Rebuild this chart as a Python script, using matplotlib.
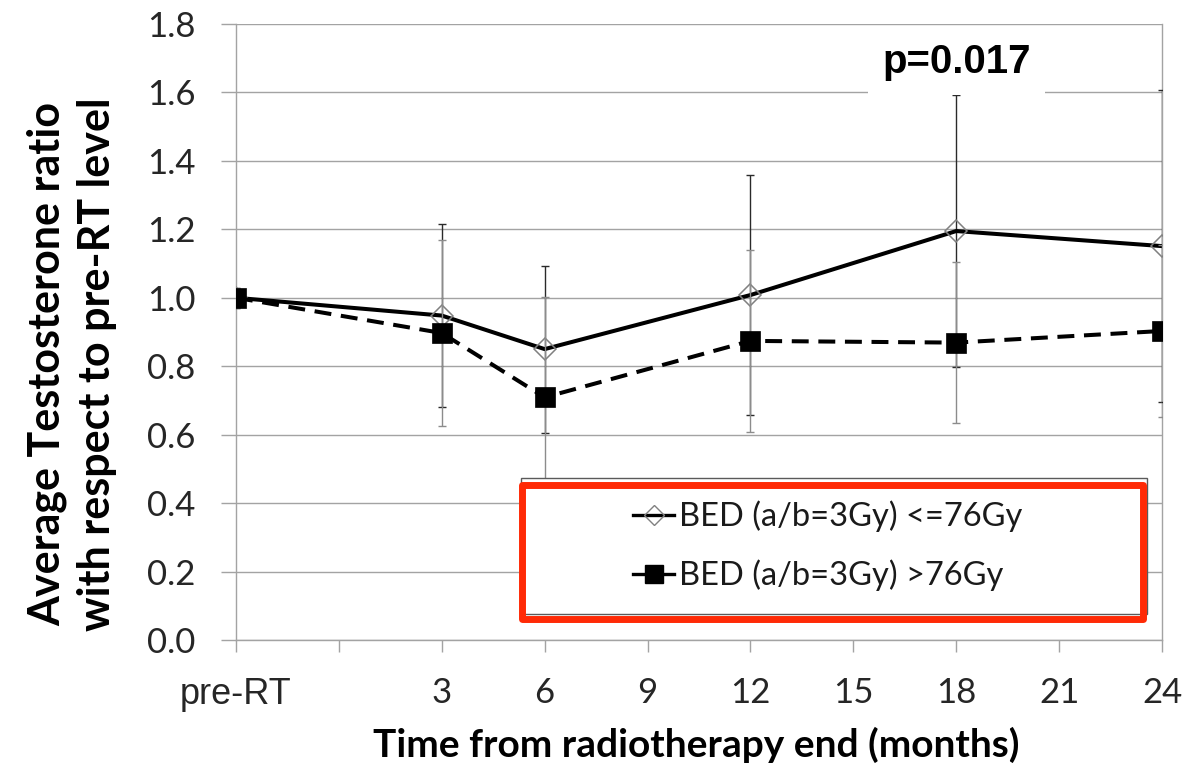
import matplotlib
matplotlib.use("Agg")
import matplotlib.pyplot as plt
from matplotlib.patches import Rectangle
from matplotlib.lines import Line2D

plt.rcParams['font.family'] = ['Lato', 'DejaVu Sans']

# -----------------------------------------------------------
# data
# -----------------------------------------------------------
# pre-RT sits one step left of month 0 on the time axis
time_pos = [-3, 3, 6, 12, 18, 24]
tick_pos = [-3, 0, 3, 6, 9, 12, 15, 18, 21, 24]
tick_labels = ['pre-RT', '', '3', '6', '9', '12', '15', '18', '21', '24']
y_ticks = [0.0, 0.2, 0.4, 0.6, 0.8, 1.0, 1.2, 1.4, 1.6, 1.8]

low_bed = [1.0, 0.948, 0.850, 1.008, 1.195, 1.151]
low_err = [0.03, 0.267, 0.244, 0.350, 0.398, 0.456]
high_bed = [1.0, 0.897, 0.709, 0.874, 0.869, 0.903]
high_err = [0.03, 0.273, 0.294, 0.266, 0.236, 0.250]

label_low = "BED (a/b=3Gy) <=76Gy"
label_high = "BED (a/b=3Gy) >76Gy"
p_text = "p=0.017"

W, H = 1193, 766
GRID = '#a3a3a3'

fig = plt.figure(figsize=(W / 100, H / 100), dpi=100)
ax = fig.add_axes([236 / W, 1 - 640 / H, (1162 - 236) / W, (640 - 24) / H])

# -----------------------------------------------------------
# series
# -----------------------------------------------------------
ax.errorbar(time_pos, low_bed, yerr=low_err, fmt='none', ecolor='#2a2a2a',
            elinewidth=1.0, capsize=3.2, capthick=1.0, zorder=3)
ax.plot(time_pos, low_bed, color='black', lw=2.9, marker='D', ms=11.5,
        mfc='none', mec='#808080', mew=1.1, zorder=4)

ax.errorbar(time_pos, high_bed, yerr=high_err, fmt='none', ecolor='#8c8c8c',
            elinewidth=1.0, capsize=3.2, capthick=1.0, zorder=5)
ax.plot(time_pos, high_bed, color='black', lw=2.9, dashes=[4.2, 2.4],
        marker='s', ms=15, mfc='black', mec='black', mew=0.5, zorder=6)

# p-value label with white box over the grid
ax.text(18, 1.657, p_text, ha='center', va='baseline', fontsize=29,
        fontweight='bold', family='Liberation Sans', zorder=10,
        bbox=dict(boxstyle='square,pad=0.35', fc='white', ec='none'))

# -----------------------------------------------------------
# axes styling
# -----------------------------------------------------------
ax.set_xlim(-3, 24)
ax.set_ylim(0, 1.8)
ax.set_yticks(y_ticks)
ax.set_yticklabels([f"{v:.1f}" for v in y_ticks])
ax.set_xticks(tick_pos)
ax.set_xticklabels(tick_labels)
ax.yaxis.grid(True, color=GRID, lw=1.0, zorder=0)
ax.set_axisbelow(True)

for side in ['left', 'right', 'bottom']:
    ax.spines[side].set_color(GRID)
    ax.spines[side].set_linewidth(1.0)
ax.spines['top'].set_visible(False)

ax.tick_params(axis='y', direction='out', length=10.8, width=1.0, color=GRID,
               pad=18.5, labelsize=25, labelcolor='#262626')
ax.tick_params(axis='x', direction='out', length=8.6, width=1.0, color=GRID,
               pad=18, labelsize=25, labelcolor='#262626')
pre = ax.get_xticklabels()[0]
pre.set_family('Liberation Sans')
pre.set_fontsize(26)

fig.text(72 / W, 1 - 364 / H,
         "Average Testosterone ratio\nwith respect to pre-RT level",
         rotation=90, ha='center', va='center', multialignment='center',
         fontsize=31, fontweight='bold', linespacing=1.28)
fig.text(696 / W, 1 - 745 / H, "Time from radiotherapy end (months)",
         ha='center', va='center', fontsize=28, fontweight='bold')

# -----------------------------------------------------------
# legend box + red highlight frame
# -----------------------------------------------------------
fig.patches.append(Rectangle((521 / W, 1 - 614 / H), (1147 - 521) / W, (614 - 478) / H,
                             transform=fig.transFigure, fc='white', ec='#5a5a5a',
                             lw=1.0, zorder=1))

handles = [
    Line2D([], [], color='black', lw=2.4, marker='D', ms=10, mfc='none',
           mec='#808080', mew=1.0),
    Line2D([], [], color='black', lw=2.4, marker='s', ms=13, mfc='black', mec='black'),
]
leg = fig.legend(handles, [label_low, label_high], loc='center left',
                 bbox_to_anchor=(617 / W, 1 - 546 / H), frameon=False,
                 fontsize=23.5, handlelength=1.25, handletextpad=0.15,
                 labelspacing=0.85, borderpad=0, labelcolor='#1a1a1a')
leg.set_zorder(5)

fig.patches.append(Rectangle((522 / W, 1 - 619 / H), (1143 - 522) / W, (619 - 485) / H,
                             transform=fig.transFigure, fc='none', ec='#ff2a06',
                             lw=5.0, joinstyle='round', zorder=6))

fig.savefig("out.png", dpi=100)
